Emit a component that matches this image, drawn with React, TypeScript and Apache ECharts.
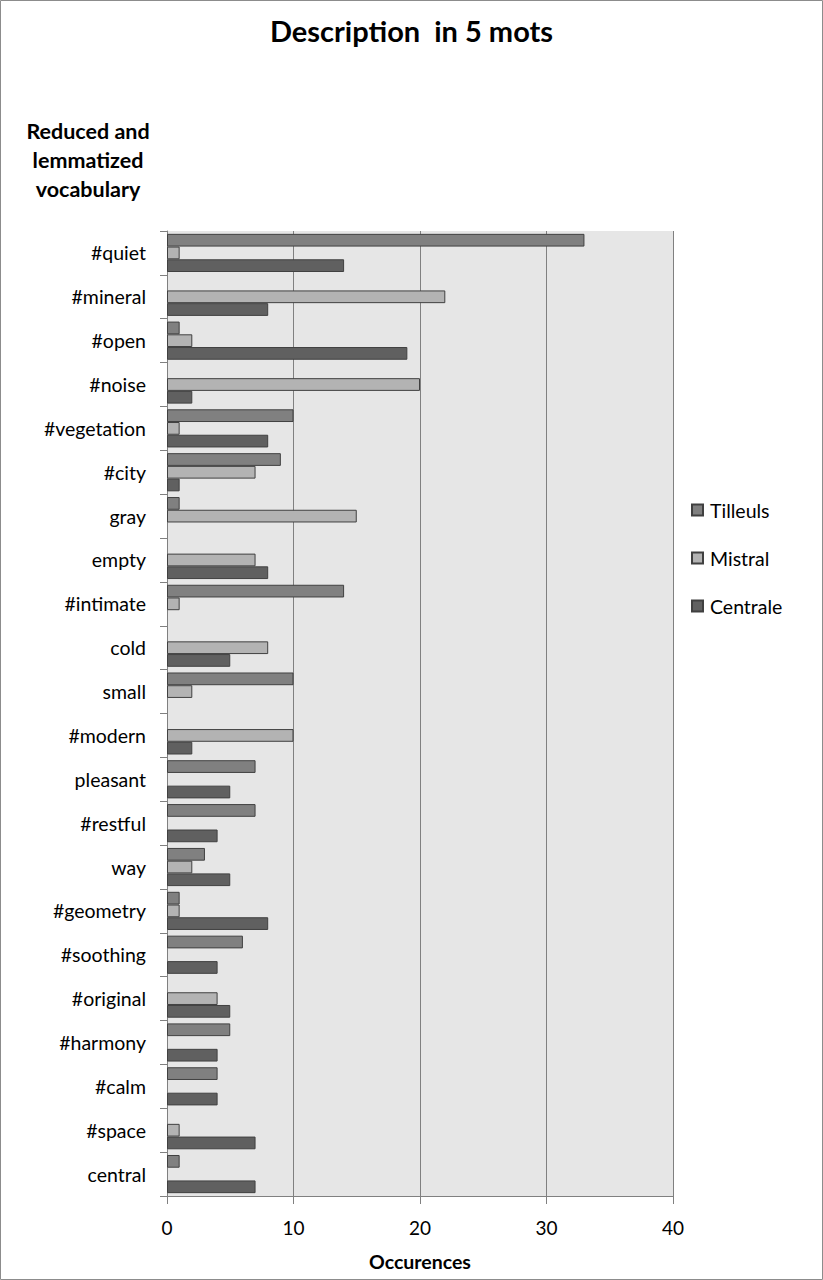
import React, { useEffect, useRef } from "react";
import * as echarts from "echarts";

const categories = [
  "#quiet", "#mineral", "#open", "#noise", "#vegetation", "#city", "gray", "empty",
  "#intimate", "cold", "small", "#modern", "pleasant", "#restful", "way", "#geometry",
  "#soothing", "#original", "#harmony", "#calm", "#space", "central",
];
const tilleuls = [33, 0, 1, 0, 10, 9, 1, 0, 14, 0, 10, 0, 7, 7, 3, 1, 6, 0, 5, 4, 0, 1];
const mistral = [1, 22, 2, 20, 1, 7, 15, 7, 1, 8, 2, 10, 0, 0, 2, 1, 0, 4, 0, 0, 1, 0];
const centrale = [14, 8, 19, 2, 8, 1, 0, 8, 0, 5, 0, 2, 5, 4, 5, 8, 4, 5, 4, 4, 7, 7];
const seriesNames = ["Tilleuls", "Mistral", "Centrale"];
const xTicks = [0, 10, 20, 30, 40];

const FONT = "Lato, 'Open Sans', sans-serif";

export default function App() {
  const ref = useRef<HTMLDivElement>(null);
  useEffect(() => {
    document.body.style.margin = "0";
    if (!ref.current) return;
    const chart = echarts.init(ref.current, null, { renderer: "svg" });
    const colors = ["#808080", "#b3b3b3", "#606060"];
    const data = [tilleuls, mistral, centrale];
    chart.setOption({
      animation: false,
      backgroundColor: "#ffffff",
      textStyle: { fontFamily: FONT },
      title: {
        text: "Description  in 5 mots",
        left: "center",
        top: 11,
        textStyle: { fontFamily: FONT, fontSize: 29, fontWeight: "bold", color: "#000" },
      },
      legend: {
        orient: "vertical",
        left: 686,
        top: 495,
        itemWidth: 11,
        itemHeight: 11,
        itemGap: 28,
        icon: "rect",
        data: seriesNames,
        textStyle: { fontFamily: FONT, fontSize: 19.5, color: "#000", padding: [0, 0, 0, 2] },
      },
      grid: {
        left: 167,
        right: 150,
        top: 231,
        bottom: 84,
        show: true,
        backgroundColor: "#e6e6e6",
        borderWidth: 0,
      },
      xAxis: {
        type: "value",
        min: xTicks[0],
        max: xTicks[xTicks.length - 1],
        interval: 10,
        name: "Occurences",
        nameLocation: "middle",
        nameGap: 55,
        nameTextStyle: { fontFamily: FONT, fontSize: 19.5, fontWeight: "bold", color: "#000" },
        axisLine: { show: true, lineStyle: { color: "#808080", width: 1 } },
        axisTick: { show: true, length: 8, lineStyle: { color: "#808080" } },
        axisLabel: { fontFamily: FONT, fontSize: 19, color: "#000", margin: 22 },
        splitLine: { show: true, lineStyle: { color: "#808080", width: 1 } },
      },
      yAxis: {
        type: "category",
        inverse: true,
        data: categories,
        axisLine: { show: true, lineStyle: { color: "#808080", width: 1 } },
        axisTick: { show: true, length: 7, lineStyle: { color: "#808080" } },
        axisLabel: { fontFamily: FONT, fontSize: 19.5, color: "#000", margin: 21 },
        splitLine: { show: false },
      },
      graphic: [
        {
          type: "text",
          x: 88,
          y: 116,
          style: {
            text: "Reduced and\nlemmatized\nvocabulary",
            fontFamily: FONT,
            fontSize: 21.5,
            fontWeight: "bold",
            fill: "#000",
            lineHeight: 29,
            align: "center",
          },
        },
        {
          type: "rect",
          x: 0,
          y: 0,
          shape: { x: 0.5, y: 0.5, width: 822, height: 1279 },
          style: { fill: "none", stroke: "#8c8c8c", lineWidth: 1 },
          silent: true,
        },
      ],
      series: seriesNames.map((name, i) => ({
        name,
        type: "bar",
        data: data[i].map((v) => (v === 0 ? "-" : v)),
        barGap: "0%",
        barCategoryGap: "13%",
        itemStyle: { color: colors[i], borderColor: "#404040", borderWidth: 1 },
      })),
    });
    return () => chart.dispose();
  }, []);
  return <div ref={ref} style={{ width: 823, height: 1280 }} />;
}
